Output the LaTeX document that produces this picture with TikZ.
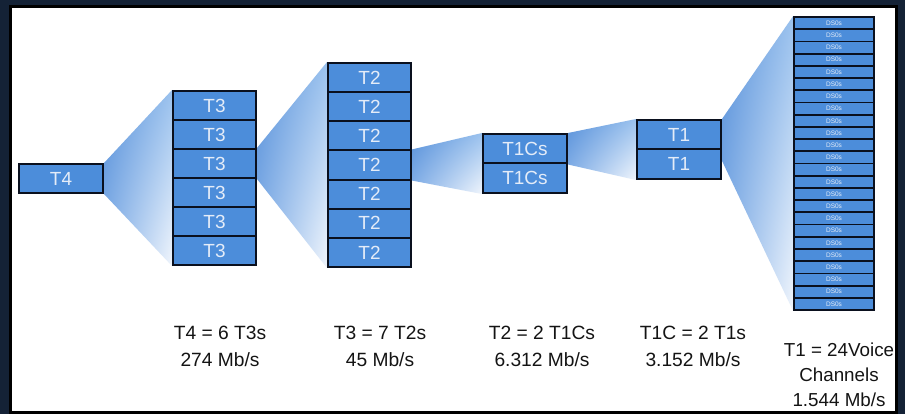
\documentclass[tikz,border=0pt]{standalone}
\usepackage{fontspec}
\setmainfont{Liberation Sans}
\usetikzlibrary{calc,shadings}
\definecolor{navy}{RGB}{20,34,54}
\definecolor{boxblue}{RGB}{76,141,218}
\definecolor{boxtext}{RGB}{228,236,248}
\definecolor{celledge}{RGB}{10,16,30}
\definecolor{fanA}{RGB}{88,145,218}
\definecolor{fanB}{RGB}{155,194,238}
\definecolor{fanC}{RGB}{135,178,232}
\definecolor{fanD}{RGB}{240,245,252}
\definecolor{lbltext}{RGB}{20,20,20}
\tikzset{
  cell/.style={draw=celledge, line width=2pt, fill=boxblue, text=boxtext, inner sep=0pt,
    font=\fontsize{19}{19}\selectfont},
  dscell/.style={cell, line width=1.8pt, minimum width=80, font=\fontsize{6.5}{6.5}\selectfont},
  fan/.style={upper left=fanA, upper right=fanB, lower left=fanC, lower right=fanD},
  lbl/.style={align=center, text=lbltext, inner sep=0pt, font=\fontsize{19.2}{26.5}\selectfont}
}
\begin{document}
\begin{tikzpicture}[x=1pt,y=-1pt]
\useasboundingbox (0,0) rectangle (905,414);
\fill[navy] (0,0) rectangle (905,414);
\draw[black, line width=3pt, fill=white] (10,6.5) rectangle (896,412);

% named box positions (first pass, invisible)
\node[cell, draw=none, fill=none, minimum width=84, minimum height=29] (t4) at (61,178.5) {};
\foreach \i in {1,...,6}
  \node[cell, draw=none, fill=none, minimum width=83, minimum height=29] (t3-\i) at (214.5,{91+29*(\i-0.5)}) {};
\foreach \i in {1,...,7}
  \node[cell, draw=none, fill=none, minimum width=83, minimum height=29.14] (t2-\i) at (369.5,{63+29.14*(\i-0.5)}) {};
\foreach \i in {1,2}
  \node[cell, draw=none, fill=none, minimum width=84, minimum height=29.5] (t1c-\i) at (525,{134+29.5*(\i-0.5)}) {};
\foreach \i in {1,2}
  \node[cell, draw=none, fill=none, minimum width=84, minimum height=29.5] (t1-\i) at (679,{120+29.5*(\i-0.5)}) {};
\foreach \i in {1,...,24}
  \node[dscell, draw=none, fill=none, minimum height=12.21] (ds-\i) at (834,{17+12.21*(\i-0.5)}) {};

% fans
\shade[fan] (t4.north east) -- (t3-1.north west) -- (t3-6.south west) -- (t4.south east) -- cycle;
\shade[fan] (t3-3.north east) -- (t2-1.north west) -- (t2-7.south west) -- (t3-3.south east) -- cycle;
\shade[fan] (t2-4.north east) -- (t1c-1.north west) -- (t1c-2.south west) -- (t2-4.south east) -- cycle;
\shade[fan] (t1c-1.north east) -- (t1-1.north west) -- (t1-2.south west) -- (t1c-1.south east) -- cycle;
\coordinate (t1low) at ($(t1-1.south east)!0.35!(t1-2.south east)$);
\shade[fan] (t1-1.north east) -- (ds-1.north west) -- (ds-24.south west) -- (t1low) -- cycle;

% boxes on top of fans
\node[cell, minimum width=84, minimum height=29] (b-t4) at (t4) {T4};
\foreach \i in {1,...,6}
  \node[cell, minimum width=83, minimum height=29] (b-t3-\i) at (t3-\i) {T3};
\foreach \i in {1,...,7}
  \node[cell, minimum width=83, minimum height=29.14] (b-t2-\i) at (t2-\i) {T2};
\foreach \i in {1,2}
  \node[cell, minimum width=84, minimum height=29.5] (b-t1c-\i) at (t1c-\i) {T1Cs};
\foreach \i in {1,2}
  \node[cell, minimum width=84, minimum height=29.5] (b-t1-\i) at (t1-\i) {T1};
\foreach \i in {1,...,24}
  \node[dscell, minimum height=12.21] (b-ds-\i) at (ds-\i) {DS0s};

% labels
\node[lbl] (l1) at (220,346.5) {T4 = 6 T3s\\274 Mb/s};
\node[lbl] (l2) at (380,346.5) {T3 = 7 T2s\\45 Mb/s};
\node[lbl] (l3) at (542,346.5) {T2 = 2 T1Cs\\6.312 Mb/s};
\node[lbl] (l4) at (693,346.5) {T1C = 2 T1s\\3.152 Mb/s};
\node[lbl, font=\fontsize{18.8}{25}\selectfont] (l5) at (839,375) {T1 = 24Voice\\Channels\\1.544 Mb/s};
\end{tikzpicture}
\end{document}
